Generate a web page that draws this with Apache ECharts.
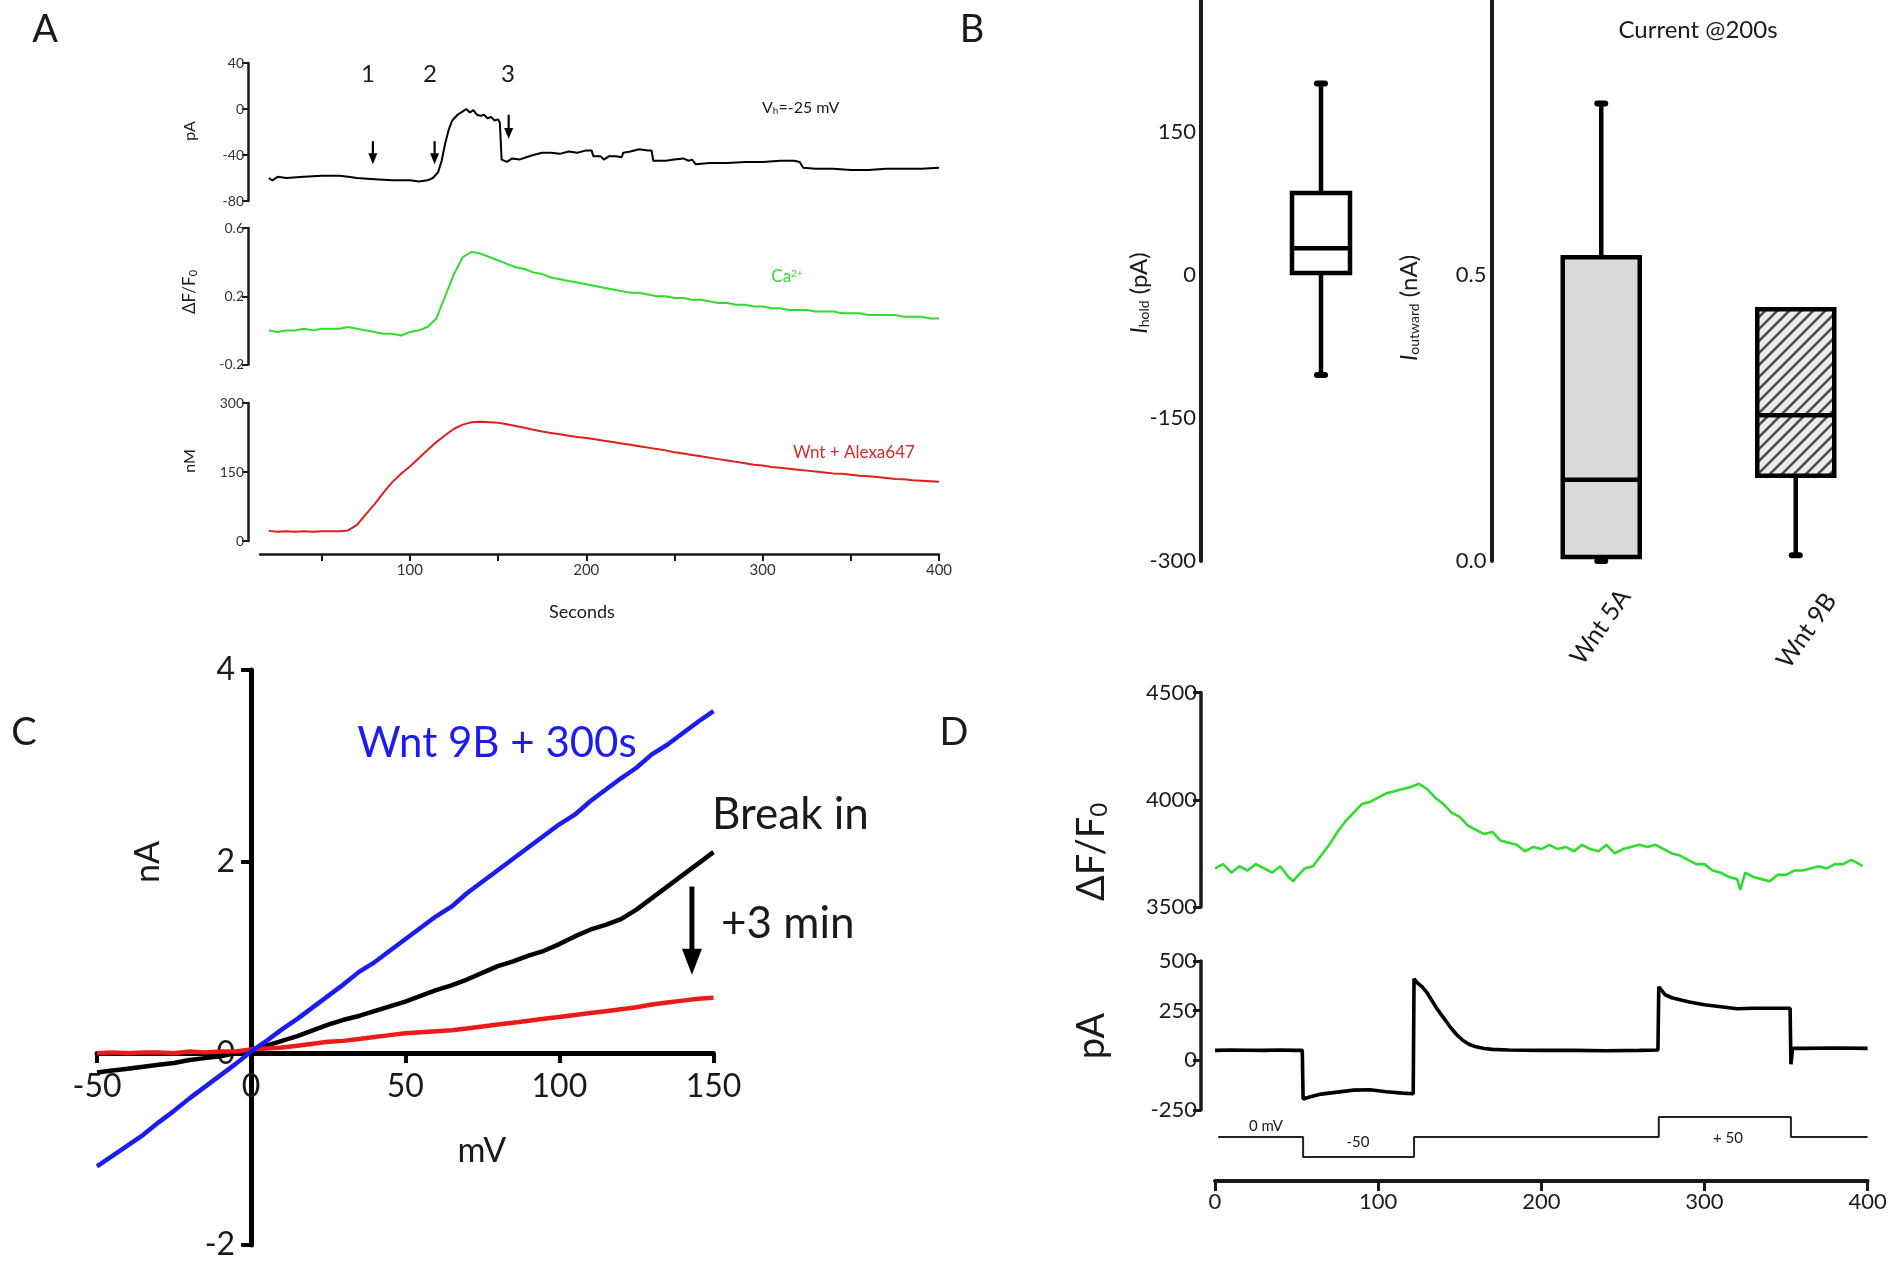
<!DOCTYPE html>
<html><head><meta charset="utf-8">
<script src="https://cdn.jsdelivr.net/npm/echarts@6.0.0/dist/echarts.min.js"></script>
<style>html,body{margin:0;padding:0;background:#fff}#c{width:1893px;height:1261px}</style>
</head><body><div id="c"></div>
<script>
// ---------- Panel A ----------
const aCurT = [20,22,25,30,40,50,60,65,70,80,90,100,105,110,113,116,118,120,122,124,127,130,132,134,136,138,140,142,144,146,148,150,151,152,155,158,162,166,170,175,180,185,190,195,200,203,204,208,210,213,217,220,221,225,230,235,237,238,245,250,255,258,260,262,270,280,290,300,310,318,321,323,330,340,350,360,370,380,390,400];
const aCurV = [-60,-62,-59,-60,-59,-58,-58,-59,-60,-61,-62,-62,-63,-62,-60,-55,-45,-30,-18,-10,-5,-2,0,-3,-1,-5,-6,-5,-8,-7,-10,-9,-12,-44,-46,-43,-44,-42,-40,-38,-38,-39,-37,-38,-36,-36,-41,-41,-44,-41,-41,-42,-38,-37,-35,-36,-36,-45,-45,-44,-43,-45,-44,-48,-47,-47,-46,-46,-45,-45,-46,-51,-52,-52,-53,-53,-52,-52,-52,-51];
const aTime = [20,25,30,35,40,45,50,55,60,65,70,75,80,85,90,95,100,105,110,115,120,125,130,135,140,145,150,155,160,165,170,175,180,185,190,195,200,205,210,215,220,225,230,235,240,245,250,255,260,265,270,275,280,285,290,295,300,305,310,315,320,325,330,335,340,345,350,355,360,365,370,375,380,385,390,395,400];
const aCa = [0.00,-0.01,0.00,0.00,0.01,0.00,0.01,0.01,0.01,0.02,0.01,0.00,-0.01,-0.02,-0.02,-0.03,-0.01,0.00,0.02,0.07,0.20,0.33,0.43,0.46,0.45,0.43,0.41,0.39,0.37,0.36,0.34,0.33,0.31,0.30,0.29,0.28,0.27,0.26,0.25,0.24,0.23,0.22,0.22,0.21,0.20,0.20,0.19,0.19,0.18,0.18,0.17,0.16,0.16,0.15,0.15,0.14,0.14,0.13,0.13,0.12,0.12,0.12,0.11,0.11,0.11,0.10,0.10,0.10,0.09,0.09,0.09,0.09,0.08,0.08,0.08,0.07,0.07];
const aWnt = [22,20,21,20,21,20,21,21,21,23,35,58,80,105,128,146,162,180,198,215,230,244,253,258,259,258,257,254,250,246,242,238,235,232,229,226,224,221,218,215,212,209,206,203,200,197,193,190,187,184,181,178,175,172,169,166,164,161,159,157,155,153,151,149,147,146,144,142,141,139,137,135,134,132,131,130,129];
const aArrows = [[79,-28,-48],[114,-28,-48],[156,-5,-26]]; // time, tail pA, tip pA
const aTicks = [50,100,150,200,250,300,350,400];
const aTickLabels = [100,200,300,400];

// ---------- Panel B ----------
const holdStats = [-105, 2, 28, 86, 201];          // low, q1, median, q3, high (pA)
const holdTicks = [-300, -150, 0, 150];
const bCategories = ['Wnt 5A','Wnt 9B'];
const wnt5AStats = [0.0, 0.007, 0.142, 0.531, 0.80]; // nA
const wnt9BStats = [0.01, 0.149, 0.255, 0.44, 0.44];
const outTicks = [0, 0.5];

// ---------- Panel C ----------
const cVolt = [-50,-45,-40,-35,-30,-25,-20,-15,-10,-5,0,5,10,15,20,25,30,35,40,45,50,55,60,65,70,75,80,85,90,95,100,105,110,115,120,125,130,135,140,145,150];
const cWnt9B = [-1.18,-1.07,-0.96,-0.85,-0.72,-0.60,-0.47,-0.35,-0.23,-0.11,0.02,0.13,0.25,0.36,0.48,0.60,0.72,0.85,0.95,1.07,1.19,1.31,1.43,1.53,1.67,1.79,1.91,2.03,2.15,2.27,2.39,2.49,2.63,2.75,2.87,2.98,3.12,3.22,3.34,3.46,3.57];
const cBreakIn = [-0.20,-0.18,-0.16,-0.14,-0.12,-0.10,-0.07,-0.05,-0.03,0.00,0.03,0.08,0.13,0.18,0.24,0.30,0.35,0.39,0.44,0.49,0.54,0.60,0.66,0.71,0.77,0.84,0.91,0.96,1.02,1.07,1.14,1.22,1.29,1.34,1.40,1.50,1.62,1.74,1.86,1.98,2.10];
const cPlus3 = [0.00,0.01,0.00,0.01,0.01,0.00,0.02,0.01,0.02,0.02,0.04,0.05,0.06,0.08,0.10,0.12,0.13,0.15,0.17,0.19,0.21,0.22,0.23,0.24,0.26,0.28,0.30,0.32,0.34,0.36,0.38,0.40,0.42,0.44,0.46,0.48,0.51,0.53,0.55,0.57,0.58];
const cArrow = [[143, 1.74, 0.82]];

// ---------- Panel D ----------
const dCaT = [0,5,10,15,20,25,30,35,40,45,48,50,55,60,65,70,75,80,85,90,95,100,105,110,115,120,125,130,135,140,145,150,155,160,165,170,175,180,185,190,195,200,205,210,215,220,225,230,235,240,245,250,255,260,265,270,275,280,285,290,295,300,305,310,315,320,322,325,330,335,340,345,350,355,360,365,370,375,380,385,390,395,397];
const dCaV = [3680,3700,3660,3690,3670,3700,3680,3660,3690,3640,3620,3640,3680,3690,3740,3790,3850,3900,3940,3980,3990,4010,4030,4040,4050,4060,4075,4050,4010,3980,3940,3920,3880,3860,3840,3850,3810,3800,3790,3760,3780,3770,3790,3770,3780,3760,3790,3770,3760,3790,3750,3770,3780,3790,3780,3790,3770,3750,3740,3720,3700,3700,3670,3660,3640,3630,3580,3660,3640,3630,3620,3650,3650,3670,3670,3680,3690,3680,3700,3700,3720,3700,3690];
const dCurT = [0,10,20,30,40,50,53.5,54,58,65,75,85,95,105,115,121.5,122,124,127,130,133,136,140,144,148,152,156,160,165,170,180,200,220,240,260,271.5,272,276,280,290,300,310,320,330,340,352.5,353,354,360,380,400];
const dCurV = [50,52,51,50,52,50,50,-195,-185,-170,-160,-150,-148,-158,-165,-168,410,390,370,340,300,260,215,170,130,100,80,68,60,55,52,50,50,48,50,52,370,330,315,295,280,270,260,262,262,262,-20,60,60,62,60];
const stimT = [2,54,54,122,122,272,272,353,353,400];
const stimV = [0,0,-50,-50,0,0,50,50,0,0];

// ---------- helpers ----------
const FF = 'Lato, "Open Sans", "DejaVu Sans", sans-serif';
const INK = '#1a1a1a';
const GREEN = '#2fdc2f', RED = '#e0201e', BLUE = '#1c1cf0';
function zip(a, b) { return a.map((v, i) => [v, b[i]]); }
const plain = v => String(v);

function arrowItem(headW, headH, lw) {
  return function (params, api) {
    const top = api.coord([api.value(0), api.value(1)]);
    const tip = api.coord([api.value(0), api.value(2)]);
    return { type: 'group', children: [
      { type: 'line', shape: { x1: top[0], y1: top[1], x2: tip[0], y2: tip[1] - headH + 1 }, style: { stroke: '#000', lineWidth: lw } },
      { type: 'polygon', shape: { points: [[tip[0] - headW / 2, tip[1] - headH], [tip[0] + headW / 2, tip[1] - headH], [tip[0], tip[1]]] }, style: { fill: '#000' } }
    ]};
  };
}

// hatch pattern
const pc = document.createElement('canvas'); pc.width = 12; pc.height = 12;
const pctx = pc.getContext('2d');
pctx.fillStyle = '#ececec'; pctx.fillRect(0, 0, 12, 12);
pctx.strokeStyle = '#4a4a4a'; pctx.lineWidth = 2.6;
pctx.beginPath();
pctx.moveTo(-3, 15); pctx.lineTo(15, -3);
pctx.moveTo(-3, 3); pctx.lineTo(3, -3);
pctx.moveTo(9, 15); pctx.lineTo(15, 9);
pctx.stroke();
const hatch = { image: pc, repeat: 'repeat' };

function boxItem(boxW, fills) {
  return function (params, api) {
    const i = api.value(0);
    const low = api.coord([i, api.value(1)]), q1 = api.coord([i, api.value(2)]),
          med = api.coord([i, api.value(3)]), q3 = api.coord([i, api.value(4)]),
          high = api.coord([i, api.value(5)]);
    const x = low[0], hw = boxW / 2, lw = 4.5;
    const ch = [];
    if (high[1] < q3[1] - 1) {
      ch.push({ type: 'line', shape: { x1: x, y1: q3[1], x2: x, y2: high[1] }, style: { stroke: '#000', lineWidth: lw } });
      ch.push({ type: 'line', shape: { x1: x - 4, y1: high[1], x2: x + 4, y2: high[1] }, style: { stroke: '#000', lineWidth: 6, lineCap: 'round' } });
    }
    ch.push({ type: 'line', shape: { x1: x, y1: q1[1], x2: x, y2: low[1] }, style: { stroke: '#000', lineWidth: lw } });
    ch.push({ type: 'line', shape: { x1: x - 4, y1: low[1], x2: x + 4, y2: low[1] }, style: { stroke: '#000', lineWidth: 6, lineCap: 'round' } });
    ch.push({ type: 'rect', shape: { x: x - hw, y: q3[1], width: boxW, height: q1[1] - q3[1] }, style: { fill: fills[params.dataIndex], stroke: '#000', lineWidth: lw } });
    ch.push({ type: 'line', shape: { x1: x - hw, y1: med[1], x2: x + hw, y2: med[1] }, style: { stroke: '#000', lineWidth: lw } });
    return { type: 'group', children: ch };
  };
}

function txt(x, y, text, size, o) {
  o = o || {};
  return { type: 'text', x: x, y: y, rotation: o.rot || 0, z: 100,
    style: { text: text, fontSize: size, fontFamily: FF, fill: o.color || INK,
      align: o.align || 'center', verticalAlign: 'middle', fontStyle: o.italic ? 'italic' : 'normal',
      rich: o.rich } };
}
const R90 = Math.PI / 2;
const subRich = (base, sub) => ({
  n: { fontSize: base, fontFamily: FF, fill: INK },
  i: { fontSize: base, fontFamily: FF, fill: INK, fontStyle: 'italic' },
  s: { fontSize: sub, fontFamily: FF, fill: INK, verticalAlign: 'bottom' }
});

const lineOf = (w) => ({ show: true, onZero: false, lineStyle: { color: INK, width: w } });
const noSplit = { show: false };

// Panel C geometry: grid spans -50..150 mV and -2..4 nA; axes cross at zero
const cGrid = { left: 97, top: 670, width: 616.5, height: 576 };
const cXOff = -cGrid.height * (0 - (-2)) / (4 - (-2));      // move x axis up to nA = 0
const cYOff = -cGrid.width * (0 - (-50)) / (150 - (-50));   // move y axis right to mV = 0

const option = {
  animation: false,
  backgroundColor: '#fff',
  grid: [
    { left: 260, top: 63, width: 679, height: 138 },
    { left: 260, top: 228, width: 679, height: 136.5 },
    { left: 260, top: 403, width: 679, height: 138 },
    { left: 1213, top: 0, width: 216, height: 561 },
    { left: 1504, top: 0, width: 431, height: 561 },
    cGrid,
    { left: 1215, top: 692.6, width: 652.6, height: 214.4 },
    { left: 1215, top: 961, width: 652.6, height: 149 },
    { left: 1215, top: 1107, width: 652.6, height: 60 }
  ],
  xAxis: [
    { gridIndex: 0, type: 'value', min: 15, max: 400, show: false },
    { gridIndex: 1, type: 'value', min: 15, max: 400, show: false },
    { gridIndex: 2, type: 'value', min: 15, max: 400, offset: 13,
      axisLine: lineOf(2.5), splitLine: noSplit,
      axisTick: { customValues: aTicks, length: 7, lineStyle: { color: INK, width: 2 } },
      axisLabel: { customValues: aTickLabels, fontSize: 15, fontFamily: FF, color: '#333', margin: 9 } },
    { gridIndex: 3, type: 'category', data: ['hold'], show: false },
    { gridIndex: 4, type: 'category', data: bCategories, axisLine: { show: false }, axisTick: { show: false }, axisLabel: { show: false } },
    { gridIndex: 5, type: 'value', min: -50, max: 150, interval: 50, offset: cXOff, splitLine: noSplit,
      axisLine: { show: true, onZero: false, lineStyle: { color: '#000', width: 5 } },
      axisTick: { length: 10, lineStyle: { color: '#000', width: 4 } },
      axisLabel: { fontSize: 32, fontFamily: FF, color: INK, margin: 18 } },
    { gridIndex: 6, type: 'value', min: 0, max: 400, show: false },
    { gridIndex: 7, type: 'value', min: 0, max: 400, show: false },
    { gridIndex: 8, type: 'value', min: 0, max: 400, interval: 100, offset: 14, splitLine: noSplit,
      axisLine: lineOf(4), axisTick: { length: 10, lineStyle: { color: INK, width: 3 } },
      axisLabel: { fontSize: 22, fontFamily: FF, color: INK, margin: 10 } }
  ],
  yAxis: [
    { gridIndex: 0, type: 'value', min: -80, max: 40, interval: 40, offset: 12, splitLine: noSplit,
      axisLine: lineOf(2.5), axisTick: { length: 6, lineStyle: { color: INK, width: 2 } },
      axisLabel: { fontSize: 14, fontFamily: FF, color: '#333', margin: 4 } },
    { gridIndex: 1, type: 'value', min: -0.2, max: 0.6, offset: 12, splitLine: noSplit,
      axisLine: lineOf(2.5), axisTick: { customValues: [-0.2, 0.2, 0.6], length: 6, lineStyle: { color: INK, width: 2 } },
      axisLabel: { customValues: [-0.2, 0.2, 0.6], formatter: v => v.toFixed(1), fontSize: 14, fontFamily: FF, color: '#333', margin: 4 } },
    { gridIndex: 2, type: 'value', min: 0, max: 300, interval: 150, offset: 12, splitLine: noSplit,
      axisLine: lineOf(2.5), axisTick: { length: 6, lineStyle: { color: INK, width: 2 } },
      axisLabel: { fontSize: 14, fontFamily: FF, color: '#333', margin: 4 } },
    { gridIndex: 3, type: 'value', min: -300, max: 288.5, offset: 12, splitLine: noSplit,
      axisLine: lineOf(4), axisTick: { customValues: holdTicks, length: 10, lineStyle: { color: INK, width: 4 } },
      axisLabel: { customValues: holdTicks, fontSize: 22, fontFamily: FF, color: INK, margin: 5 } },
    { gridIndex: 4, type: 'value', min: 0, max: 0.9808, offset: 12.5, splitLine: noSplit,
      axisLine: lineOf(4), axisTick: { customValues: outTicks, length: 10, lineStyle: { color: INK, width: 4 } },
      axisLabel: { customValues: outTicks, formatter: v => v.toFixed(1), fontSize: 22, fontFamily: FF, color: INK, margin: 5 } },
    { gridIndex: 5, type: 'value', min: -2, max: 4, interval: 2, offset: cYOff, splitLine: noSplit,
      axisLine: { show: true, onZero: false, lineStyle: { color: '#000', width: 5 } },
      axisTick: { length: 10, lineStyle: { color: '#000', width: 4 } },
      axisLabel: { fontSize: 32, fontFamily: FF, color: INK, margin: 16 } },
    { gridIndex: 6, type: 'value', min: 3500, max: 4500, interval: 500, offset: 14, splitLine: noSplit,
      axisLine: lineOf(3.5), axisTick: { length: 8, lineStyle: { color: INK, width: 3 } },
      axisLabel: { formatter: plain, fontSize: 22, fontFamily: FF, color: INK, margin: 4 } },
    { gridIndex: 7, type: 'value', min: -250, max: 500, interval: 250, offset: 14, splitLine: noSplit,
      axisLine: lineOf(3.5), axisTick: { length: 8, lineStyle: { color: INK, width: 3 } },
      axisLabel: { formatter: plain, fontSize: 22, fontFamily: FF, color: INK, margin: 4 } },
    { gridIndex: 8, type: 'value', min: -75, max: 75, show: false }
  ],
  series: [
    { type: 'line', xAxisIndex: 0, yAxisIndex: 0, data: zip(aCurT, aCurV), showSymbol: false, lineStyle: { color: '#000', width: 2 } },
    { type: 'line', xAxisIndex: 1, yAxisIndex: 1, data: zip(aTime, aCa), showSymbol: false, lineStyle: { color: GREEN, width: 2 } },
    { type: 'line', xAxisIndex: 2, yAxisIndex: 2, data: zip(aTime, aWnt), showSymbol: false, lineStyle: { color: RED, width: 2 } },
    { type: 'custom', xAxisIndex: 0, yAxisIndex: 0, data: aArrows, encode: { x: 0, y: [1, 2] }, renderItem: arrowItem(9, 11, 2.2) },
    { type: 'custom', xAxisIndex: 3, yAxisIndex: 3, data: [[0].concat(holdStats)], encode: { x: 0, y: [1, 2, 3, 4, 5] }, renderItem: boxItem(58, ['#ffffff']) },
    { type: 'custom', xAxisIndex: 4, yAxisIndex: 4, data: [[0].concat(wnt5AStats), [1].concat(wnt9BStats)], encode: { x: 0, y: [1, 2, 3, 4, 5] }, renderItem: boxItem(77, ['#d9d9d9', hatch]) },
    { type: 'line', xAxisIndex: 5, yAxisIndex: 5, data: zip(cVolt, cBreakIn), showSymbol: false, lineStyle: { color: '#000', width: 4.5 } },
    { type: 'line', xAxisIndex: 5, yAxisIndex: 5, data: zip(cVolt, cPlus3), showSymbol: false, lineStyle: { color: '#ee1a1a', width: 4.5 } },
    { type: 'line', xAxisIndex: 5, yAxisIndex: 5, data: zip(cVolt, cWnt9B), showSymbol: false, lineStyle: { color: BLUE, width: 4.5 } },
    { type: 'custom', xAxisIndex: 5, yAxisIndex: 5, data: cArrow, encode: { x: 0, y: [1, 2] }, renderItem: arrowItem(20, 26, 5) },
    { type: 'line', xAxisIndex: 6, yAxisIndex: 6, data: zip(dCaT, dCaV), showSymbol: false, lineStyle: { color: GREEN, width: 2.6 } },
    { type: 'line', xAxisIndex: 7, yAxisIndex: 7, data: zip(dCurT, dCurV), showSymbol: false, lineStyle: { color: '#000', width: 3.6 } },
    { type: 'line', xAxisIndex: 8, yAxisIndex: 8, data: zip(stimT, stimV), showSymbol: false, lineStyle: { color: '#222', width: 2 } }
  ],
  graphic: [
    txt(45, 30, 'A', 38), txt(972, 30, 'B', 38), txt(24, 733, 'C', 38), txt(954, 733, 'D', 38),
    txt(368, 74, '1', 24), txt(430, 74, '2', 24), txt(508, 74, '3', 24),
    txt(762, 108, '{n|V}{s|h}{n|=-25 mV}', 16, { align: 'left', rich: subRich(16, 10) }),
    txt(787, 277, '{c|Ca}{u|2+}', 17, { color: GREEN, rich: { c: { fontSize: 17, fontFamily: FF, fill: GREEN }, u: { fontSize: 10, fontFamily: FF, fill: GREEN, verticalAlign: 'top' } } }),
    txt(854, 453, 'Wnt + Alexa647', 17, { color: '#d42a2a' }),
    txt(582, 612, 'Seconds', 18),
    txt(190, 131, 'pA', 16, { rot: R90 }),
    txt(190, 292, '{n|ΔF/F}{s|0}', 17, { rot: R90, rich: subRich(17, 11) }),
    txt(190, 461, 'nM', 16, { rot: R90 }),
    txt(1698, 30, 'Current @200s', 24),
    txt(1139, 293, '{i|I}{s|hold}{n| (pA)}', 24, { rot: R90, rich: subRich(24, 14) }),
    txt(1409, 308, '{i|I}{s|outward}{n| (nA)}', 24, { rot: R90, rich: subRich(24, 14) }),
    txt(1625, 592, bCategories[0], 25, { rot: 55 * Math.PI / 180, align: 'right' }),
    txt(1831, 596, bCategories[1], 25, { rot: 55 * Math.PI / 180, align: 'right' }),
    txt(497, 743, 'Wnt 9B + 300s', 42, { color: BLUE }),
    txt(712, 815, 'Break in', 44, { align: 'left' }),
    txt(721, 924, '+3 min', 44, { align: 'left' }),
    txt(148, 862, 'nA', 34, { rot: R90 }),
    txt(482, 1151, 'mV', 34),
    txt(1092, 852, '{n|ΔF/F}{s|0}', 38, { rot: R90, rich: subRich(38, 24) }),
    txt(1092, 1036, 'pA', 38, { rot: R90 }),
    txt(1266, 1126, '0 mV', 15), txt(1358, 1142, '-50', 15), txt(1728, 1138, '+ 50', 15)
  ]
};
const chart = echarts.init(document.getElementById('c'), null, { renderer: 'canvas', width: 1893, height: 1261 });
chart.setOption(option);
</script></body></html>
